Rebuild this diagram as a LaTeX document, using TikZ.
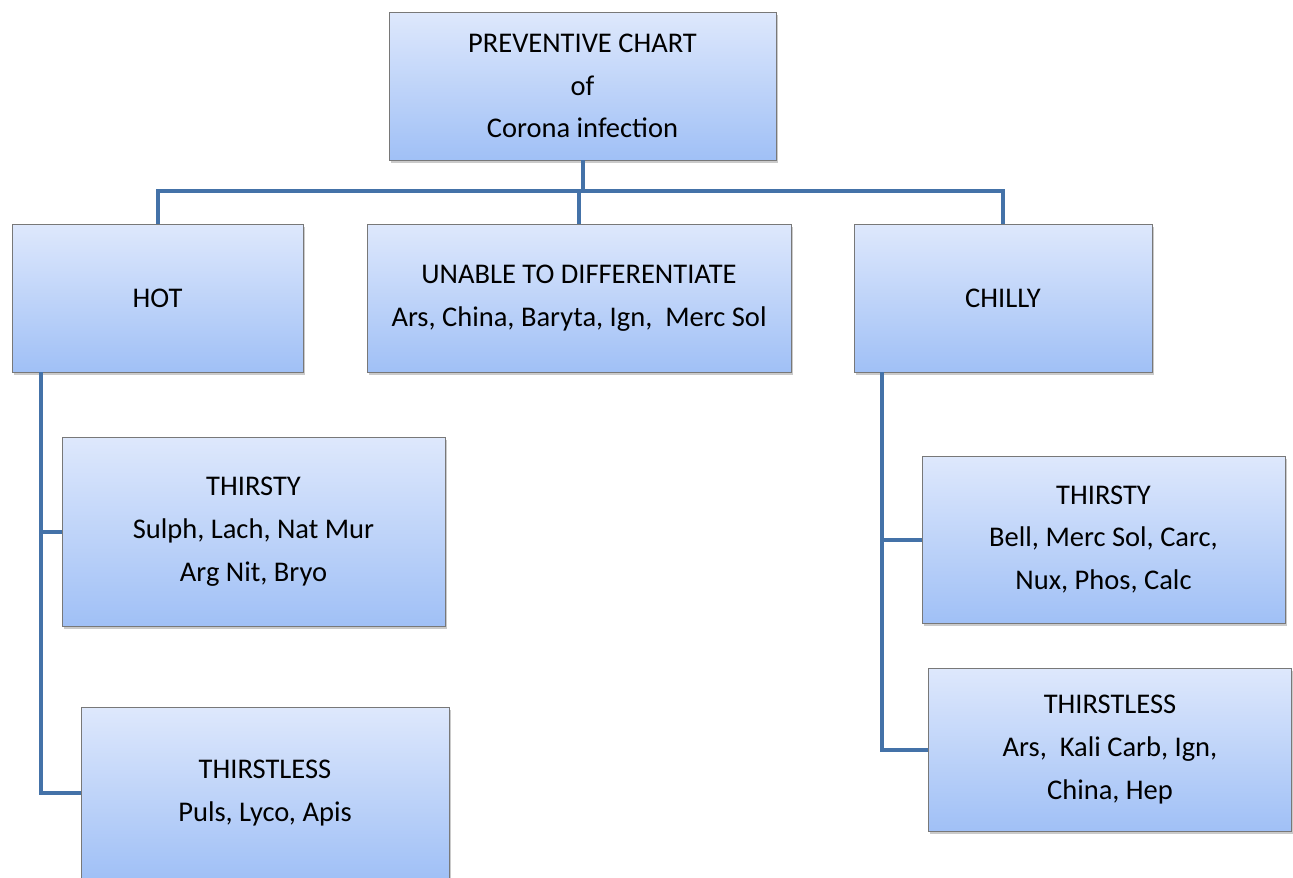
\documentclass[tikz,border=0pt]{standalone}
\usepackage{fontspec}
\setmainfont{Carlito}
\usetikzlibrary{shadows}
\definecolor{boxtop}{RGB}{222,232,252}
\definecolor{boxbot}{RGB}{160,192,246}
\definecolor{boxline}{RGB}{120,120,120}
\definecolor{conncol}{RGB}{68,114,168}
\tikzset{
  chartbox/.style={rectangle, draw=boxline, line width=0.9pt, top color=boxtop, bottom color=boxbot,
    align=center, font=\fontsize{28.5}{42.8}\selectfont, inner sep=0pt,
    drop shadow={shadow xshift=1.5pt, shadow yshift=-3pt, opacity=0.35, fill=black!60}},
  conn/.style={draw=conncol, line width=4pt, line join=miter}
}
\begin{document}
\begin{tikzpicture}[x=1pt,y=-1pt]
\useasboundingbox (0,0) rectangle (1293,878);
\node[chartbox, minimum width=387pt, minimum height=148pt] (top) at (582.5,86) {PREVENTIVE CHART\\of\\Corona infection};
\node[chartbox, minimum width=291pt, minimum height=148pt] (hot) at (157.5,298) {HOT};
\node[chartbox, minimum width=424pt, minimum height=148pt] (unable) at (579,298) {UNABLE TO DIFFERENTIATE\\Ars, China, Baryta, Ign,\ \ Merc Sol};
\node[chartbox, minimum width=298pt, minimum height=148pt] (chilly) at (1003,298) {CHILLY};
\node[chartbox, minimum width=383pt, minimum height=189pt] (thl) at (253.5,531.5) {THIRSTY\\Sulph, Lach, Nat Mur\\Arg Nit, Bryo};
\node[chartbox, minimum width=368pt, minimum height=172pt] (tll) at (265,793) {THIRSTLESS\\Puls, Lyco, Apis};
\node[chartbox, minimum width=363pt, minimum height=167pt] (thr) at (1103.5,539.5) {THIRSTY\\Bell, Merc Sol, Carc,\\Nux, Phos, Calc};
\node[chartbox, minimum width=363pt, minimum height=163pt] (tlr) at (1110,749.5) {THIRSTLESS\\Ars,\ \ Kali Carb, Ign,\\China, Hep};
\coordinate (bar) at (0,191);
\coordinate (hs) at (41,372);
\coordinate (cs) at (882,372);
\draw[conn] (hot.north) |- (bar -| chilly.north) -- (chilly.north);
\draw[conn] (top.south) -- (top.south |- bar);
\draw[conn] (unable.north) -- (unable.north |- bar);
\draw[conn] (hs) |- (thl.west);
\draw[conn] (hs) |- (tll.west);
\draw[conn] (cs) |- (thr.west);
\draw[conn] (cs) |- (tlr.west);
\end{tikzpicture}
\end{document}
